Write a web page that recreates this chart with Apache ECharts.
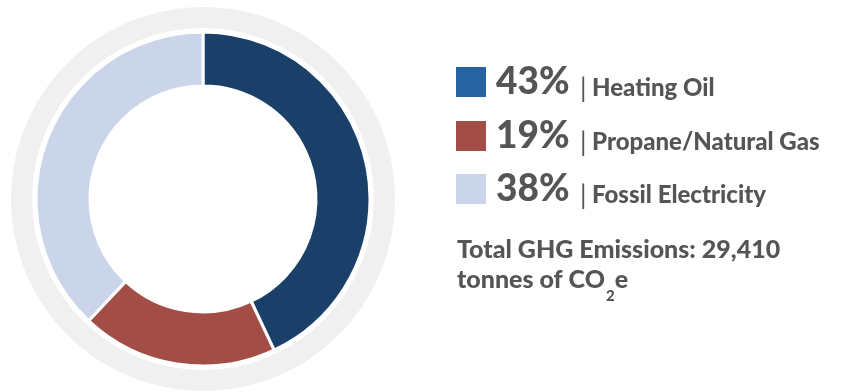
<!DOCTYPE html>
<html>
<head>
<meta charset="utf-8">
<script src="https://cdn.jsdelivr.net/npm/echarts@6/dist/echarts.min.js"></script>
<style>
  html, body { margin: 0; padding: 0; background: #fff; }
  #chart { width: 846px; height: 392px; }
</style>
</head>
<body>
<div id="chart"></div>
<script>
// Emission sources and their share of total GHG emissions (%)
const categories = ['Heating Oil', 'Propane/Natural Gas', 'Fossil Electricity'];
const shares = [43, 19, 38];
const sliceColors = ['#1a4069', '#a24d46', '#cbd5ea'];
const legendColors = ['#2763a1', '#a24d46', '#cbd5ea'];
const totalLine1 = 'Total GHG Emissions: 29,410';
const totalLine2 = 'tonnes of CO';

const FONT = 'Lato, "Open Sans", sans-serif';
const TEXT = '#555555';
const PCT_FONT = '900 37px ' + FONT;
const NAME_FONT = '900 24px ' + FONT;
const NOTE_FONT = '900 25px ' + FONT;
const SUB_FONT = '900 15px ' + FONT;

const chart = echarts.init(document.getElementById('chart'), null, { renderer: 'canvas' });

// Legend rows: coloured square, bold percentage, thin divider, category name
const rowTop = [67, 121, 174];
const graphic = [];
categories.forEach((name, i) => {
  const top = rowTop[i];
  graphic.push({
    type: 'rect',
    shape: { x: 456, y: top, width: 30, height: 30 },
    style: { fill: legendColors[i] }
  });
  graphic.push({
    type: 'text',
    x: 496, y: top + 15,
    style: { text: shares[i] + '%', fill: TEXT, font: PCT_FONT, verticalAlign: 'middle', align: 'left' }
  });
  graphic.push({
    type: 'text',
    x: 580, y: top + 22,
    style: { text: '|', fill: TEXT, font: '26px ' + FONT, verticalAlign: 'middle', align: 'left' }
  });
  graphic.push({
    type: 'text',
    x: 592, y: top + 21,
    style: { text: name, fill: TEXT, font: NAME_FONT, verticalAlign: 'middle', align: 'left' }
  });
});

// Total emissions note, with a subscript "2" in CO2e
const ctx = document.createElement('canvas').getContext('2d');
ctx.font = NOTE_FONT;
const w2 = ctx.measureText(totalLine2).width;
ctx.font = SUB_FONT;
const wSub = ctx.measureText('2').width;

graphic.push({
  type: 'text', x: 457, y: 250,
  style: { text: totalLine1, fill: TEXT, font: NOTE_FONT, verticalAlign: 'middle' }
});
graphic.push({
  type: 'text', x: 457, y: 280,
  style: { text: totalLine2, fill: TEXT, font: NOTE_FONT, verticalAlign: 'middle' }
});
graphic.push({
  type: 'text', x: 457 + w2 + 1, y: 296,
  style: { text: '2', fill: TEXT, font: SUB_FONT, verticalAlign: 'middle' }
});
graphic.push({
  type: 'text', x: 457 + w2 + wSub + 1, y: 280,
  style: { text: 'e', fill: TEXT, font: NOTE_FONT, verticalAlign: 'middle' }
});

chart.setOption({
  animation: false,
  series: [
    {
      // pale outer halo ring
      type: 'pie',
      silent: true,
      center: [203, 199],
      radius: [171, 192],
      label: { show: false },
      labelLine: { show: false },
      itemStyle: { color: '#f0f0f0' },
      data: [{ value: 1, name: 'ring' }],
      z: 1
    },
    {
      type: 'pie',
      center: [203, 199],
      radius: [113, 167],
      startAngle: 90,
      clockwise: true,
      label: { show: false },
      labelLine: { show: false },
      itemStyle: { borderColor: '#ffffff', borderWidth: 3 },
      data: categories.map((name, i) => ({
        name, value: shares[i], itemStyle: { color: sliceColors[i] }
      })),
      z: 2
    }
  ],
  graphic: graphic
});
</script>
</body>
</html>
